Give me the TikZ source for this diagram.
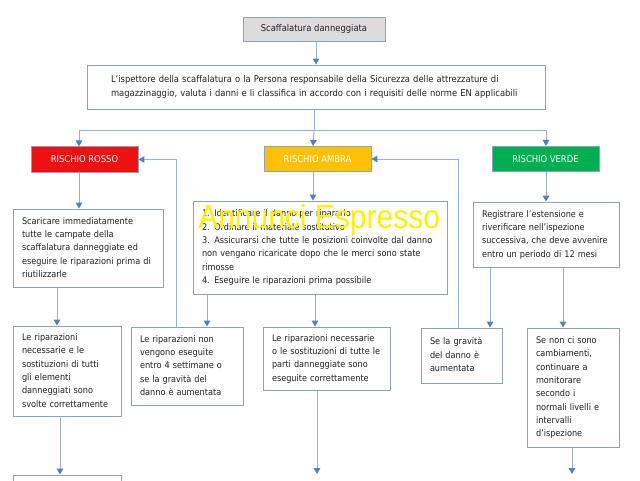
\documentclass[tikz,border=0pt]{standalone}
\usepackage{fontspec}
\usepackage{graphicx}
\setmainfont{DejaVu Sans Condensed}
\newfontfamily\wmfont{Liberation Sans}
\usetikzlibrary{arrows.meta}
\definecolor{boxc}{HTML}{8DA3BC}
\definecolor{linec}{HTML}{94B3D9}
\definecolor{tipc}{HTML}{4F81BD}
\definecolor{txt}{HTML}{222222}
\definecolor{topfill}{HTML}{DCDCDC}
\definecolor{rosso}{HTML}{EE1111}
\definecolor{ambra}{HTML}{FFC000}
\definecolor{verde}{HTML}{00B050}
\newcommand{\fs}{\fontsize{6.8}{10}\selectfont}
\newcommand{\fsb}{\fontsize{7}{10.5}\selectfont}
\newcommand{\lines}[1]{\begin{tabular}{@{}l@{}}#1\end{tabular}}
\tikzset{
  bx/.style n args={3}{draw=boxc, line width=0.75pt, fill=white, inner xsep=6.75pt, inner ysep=0pt,
     minimum width=#1, minimum height=#2, text width=#3, align=left, text=txt, font=\fs},
  risk/.style={draw=boxc, line width=0.6pt, fill=#1, text=white, font=\fsb, minimum width=80.25pt, minimum height=19pt, inner sep=0pt},
  conn/.style={draw=linec, line width=0.75pt},
  arr/.style={conn, -{Triangle[length=4.5pt,width=5pt,color=tipc]}},
}
\begin{document}
\begin{tikzpicture}[x=0.75pt,y=-0.75pt]
\useasboundingbox (0,0) rectangle (640,480);
\clip (0,0) rectangle (640,480);
% column coordinates
\coordinate (c57) at (57,0);
\coordinate (c60) at (60,0);
\coordinate (c79) at (79,0);
\coordinate (c176) at (176,0);
\coordinate (c207) at (207,0);
\coordinate (c313) at (313,0);
\coordinate (c315) at (315,0);
\coordinate (c317) at (317,0);
\coordinate (c458) at (458,0);
\coordinate (c490) at (490,0);
\coordinate (c546) at (546,0);
\coordinate (c563) at (563,0);
\coordinate (c572) at (572,0);

\node[draw=boxc, line width=0.75pt, fill=topfill, minimum width=106.5pt, minimum height=18pt, inner sep=0pt, text=txt, font=\fsb] (top) at (314,29) {Scaffalatura danneggiata};

\node[bx={343.5pt}{33pt}{307.5pt}, inner xsep=18pt, font=\fsb] (insp) at (316,87)
  {\lines{L’ispettore della scaffalatura o la Persona responsabile della Sicurezza delle attrezzature di\\magazzinaggio, valuta i danni e li classifica in accordo con i requisiti delle norme EN applicabili}};

\node[risk=rosso] (rosso) at (84.5,159.5) {RISCHIO ROSSO};
\node[risk=ambra] (ambra) at (317.5,159) {RISCHIO AMBRA};
\node[risk=verde] (verde) at (545.5,159) {RISCHIO VERDE};

\node[bx={112.5pt}{58.5pt}{99pt}] (rd) at (88,248)
  {\lines{Scaricare immediatamente\\tutte le campate della\\scaffalatura danneggiate ed\\eseguire le riparazioni prima di\\riutilizzarle}};
\node[bx={190.5pt}{69.75pt}{177pt}] (ad) at (320,247.5)
  {\lines{1. Identificare il danno per ripararlo\\2. Ordinare il materiale sostitutivo\\3. Assicurarsi che tutte le posizioni coinvolte dal danno\\non vengano ricaricate dopo che le merci sono state\\rimosse\\4. Eseguire le riparazioni prima possibile}};
\node[bx={109.5pt}{48.75pt}{96pt}] (vd) at (546,234.5)
  {\lines{Registrare l’estensione e\\riverificare nell’ispezione\\successiva, che deve avvenire\\entro un periodo di 12 mesi}};

\node[bx={81pt}{67.5pt}{67.5pt}] (r1) at (67,371)
  {\lines{Le riparazioni\\necessarie e le\\sostituzioni di tutti\\gli elementi\\danneggiati sono\\svolte correttamente}};
\node[bx={84pt}{58.5pt}{70.5pt}] (r2) at (187,366)
  {\lines{Le riparazioni non\\vengono eseguite\\entro 4 settimane o\\se la gravità del\\danno è aumentata}};
\node[bx={95.25pt}{47.25pt}{81.75pt}] (a1) at (326.5,358.5)
  {\lines{Le riparazioni necessarie\\o le sostituzioni di tutte le\\parti danneggiate sono\\eseguite correttamente}};
\node[bx={60.75pt}{41.25pt}{47.25pt}] (a2) at (461.5,355.5)
  {\lines{Se la gravità\\del danno è\\aumentata}};
\node[bx={69pt}{89.25pt}{55.5pt}] (v2) at (573,387.5)
  {\lines{Se non ci sono\\cambiamenti,\\continuare a\\monitorare\\secondo i\\normali livelli e\\intervalli\\d’ispezione}};
\node[bx={81pt}{30pt}{67.5pt}] (r3) at (67,495) {};

\coordinate (bus) at (314,130);
\coordinate (endA) at (317,474);
\coordinate (endV) at (572,474);

% connectors
\draw[arr] (top.south -| insp.north) -- (insp.north);
\draw[conn] (insp.south -| bus) -- (bus);
\draw[arr] (bus) -| (rosso.north -| c79);
\draw[arr] (bus) -- (ambra.north -| c313);
\draw[arr] (bus) -| (verde.north -| c546);
\draw[arr] (rosso.south -| c79) -- (rd.north -| c79);
\draw[arr] (ambra.south -| c313) -- (ad.north -| c313);
\draw[arr] (verde.south -| c546) -- (vd.north -| c546);
\draw[arr] (rd.south -| c57) -- (r1.north -| c57);
\draw[arr] (r1.south -| c60) -- (r3.north -| c60);
\draw[arr] (ad.south -| c207) -- (r2.north -| c207);
\draw[arr] (ad.south -| c315) -- (a1.north -| c315);
\draw[arr] (a1.south -| c317) -- (endA);
\draw[arr] (r2.north -| c176) |- (rosso.east);
\draw[arr] (vd.south -| c490) -- (a2.north -| c490);
\draw[arr] (vd.south -| c563) -- (v2.north -| c563);
\draw[arr] (a2.north -| c458) |- (ambra.east);
\draw[arr] (v2.south -| c572) -- (endV);

% watermark
\node[anchor=base west, inner sep=0pt, text=yellow, font=\wmfont\fontsize{25}{25}\selectfont] (wm) at (198,228) {\scalebox{0.9}[1]{Annunci Espresso}};
\end{tikzpicture}
\end{document}
